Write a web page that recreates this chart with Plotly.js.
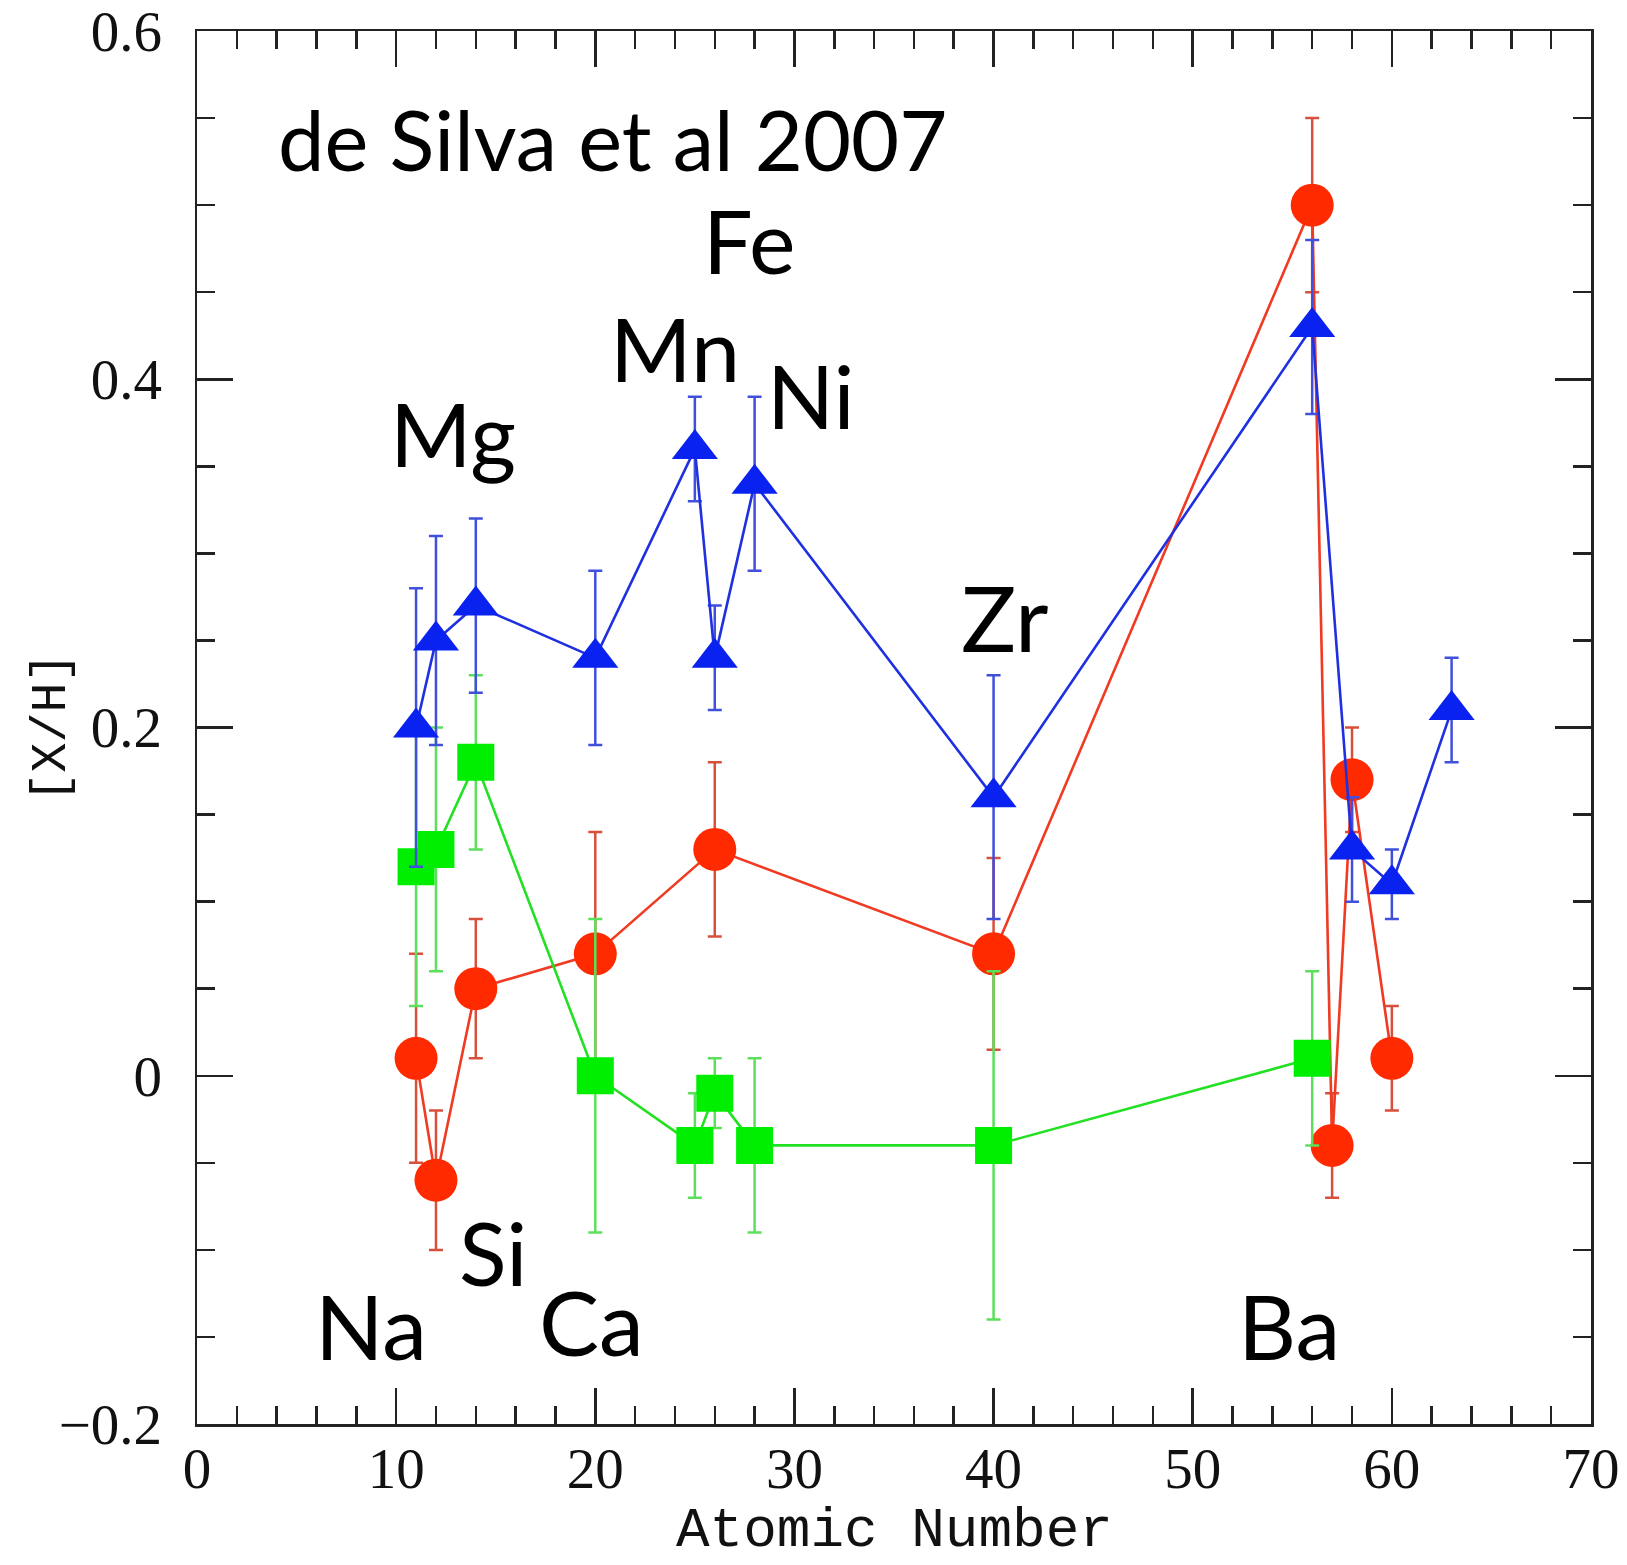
<!DOCTYPE html>
<html>
<head>
<meta charset="utf-8">
<script src="https://cdn.plot.ly/plotly-3.0.1.min.js"></script>
<style>html,body{margin:0;padding:0;background:#fff;}</style>
</head>
<body>
<div id="chart" style="width:1627px;height:1565px;"></div>
<script>
// Blue triangles
const blueZ   = [11, 12, 14, 20, 25, 26, 28, 40, 56, 58, 60, 63];
const blueVal = [0.20, 0.25, 0.27, 0.24, 0.36, 0.24, 0.34, 0.16, 0.43, 0.13, 0.11, 0.21];
const blueErr = [0.08, 0.06, 0.05, 0.05, 0.03, 0.03, 0.05, 0.07, 0.05, 0.03, 0.02, 0.03];

// Red circles
const redZ   = [11, 12, 14, 20, 26, 40, 56, 57, 58, 60];
const redVal = [0.01, -0.06, 0.05, 0.07, 0.13, 0.07, 0.50, -0.04, 0.17, 0.01];
const redErr = [0.06, 0.04, 0.04, 0.07, 0.05, 0.055, 0.05, 0.03, 0.03, 0.03];

// Green squares
const greenZ   = [11, 12, 14, 20, 25, 26, 28, 40, 56];
const greenVal = [0.12, 0.13, 0.18, 0.00, -0.04, -0.01, -0.04, -0.04, 0.01];
const greenErr = [0.08, 0.07, 0.05, 0.09, 0.03, 0.02, 0.05, 0.10, 0.05];

const elementLabels = ["de Silva et al 2007", "Fe", "Mn", "Ni", "Mg", "Zr", "Si", "Na", "Ca", "Ba"];
const xTitle = 'Atomic Number';
const yTitle = '[X/H]';

const tickFontFam = 'Liberation Serif, DejaVu Serif, serif';
const titleFontFam = 'Liberation Mono, DejaVu Sans Mono, monospace';
const labelFont = 'Lato, Noto Sans, sans-serif';

function series(xs, ys, es, sym, size, mcol, lcol, ecol) {
  return {
    type: 'scatter', mode: 'lines+markers', x: xs, y: ys,
    line: {color: lcol, width: 2.6},
    marker: {symbol: sym, size: size, color: mcol, line: {width: 0}},
    error_y: {type: 'data', array: es, visible: true, color: ecol, thickness: 2.5, width: 7},
    showlegend: false, hoverinfo: 'x+y'
  };
}

const traces = [
  series(redZ, redVal, redErr, 'circle', 43, '#ff2a00', '#f03a22', '#d8503c'),
  series(greenZ, greenVal, greenErr, 'square', 37, '#00ee00', '#22e022', '#5ce05c'),
  series(blueZ, blueVal, blueErr, 'triangle-up', 40, '#0a22f0', '#1f30e0', '#4050dc')
];

const labelPos = [
  [20.85, 0.538], [27.70, 0.480], [23.99, 0.418], [30.83, 0.391], [12.87, 0.369],
  [40.57, 0.264], [14.88, -0.101], [8.76, -0.143], [19.80, -0.141], [54.82, -0.143]
];
const labelSize = [83, 88, 88, 88, 88, 92, 88, 90, 90, 90];

const annotations = elementLabels.map((t, i) => ({
  x: labelPos[i][0], y: labelPos[i][1], xref: 'x', yref: 'y',
  text: t, showarrow: false, xanchor: 'center', yanchor: 'middle',
  font: {family: labelFont, size: labelSize[i], color: '#000'}
}));
// axis titles placed as annotations for exact positioning
annotations.push({
  x: 0.5, y: -0.0768, xref: 'paper', yref: 'paper', text: xTitle, showarrow: false,
  xanchor: 'center', yanchor: 'middle',
  font: {family: titleFontFam, size: 56, color: '#111'}
});
annotations.push({
  x: -0.1047, y: 0.5, xref: 'paper', yref: 'paper', text: yTitle, showarrow: false,
  xanchor: 'center', yanchor: 'middle', textangle: -90,
  font: {family: titleFontFam, size: 50, color: '#111'}
});

const axBase = {
  showline: true, linecolor: '#222', linewidth: 2.5, mirror: 'ticks',
  ticks: 'inside', tickwidth: 2.5, tickcolor: '#222', ticklen: 36,
  showgrid: false, zeroline: false, automargin: false,
  ticklabeloverflow: 'allow',
  tickfont: {family: tickFontFam, size: 57, color: '#111'}
};

const layout = {
  width: 1627, height: 1565,
  margin: {l: 197, r: 36, t: 31, b: 141, pad: 0},
  paper_bgcolor: '#fff', plot_bgcolor: '#fff',
  xaxis: Object.assign({}, axBase, {
    range: [0, 70], tick0: 0, dtick: 10,
    minor: {dtick: 2, ticks: 'inside', ticklen: 18, tickwidth: 2.5, tickcolor: '#222'},
    ticklabelstandoff: -7
  }),
  yaxis: Object.assign({}, axBase, {
    range: [-0.2, 0.6], tick0: 0, dtick: 0.2,
    minor: {dtick: 0.05, ticks: 'inside', ticklen: 18, tickwidth: 2.5, tickcolor: '#222'},
    ticklabelstandoff: 21
  }),
  annotations: annotations
};

Plotly.newPlot('chart', traces, layout, {displayModeBar: false, staticPlot: true});
</script>
</body>
</html>
